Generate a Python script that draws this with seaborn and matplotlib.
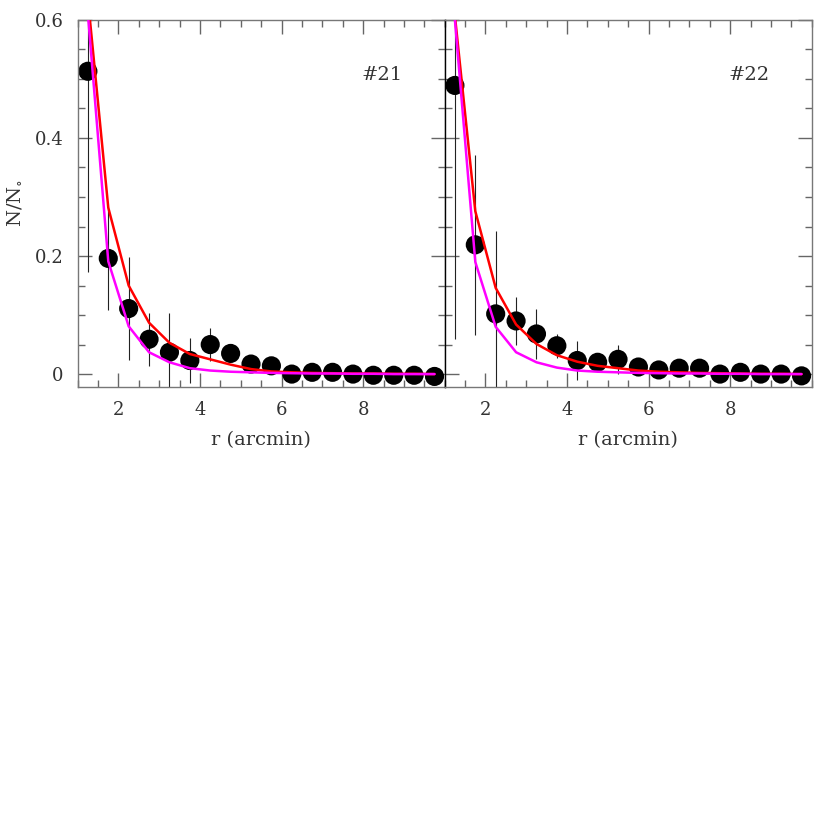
import numpy as np
import pandas as pd
import matplotlib
matplotlib.use("Agg")
import matplotlib.pyplot as plt
import seaborn as sns
from matplotlib.ticker import MultipleLocator

# radial bins (arcmin)
r = [1.25, 1.75, 2.25, 2.75, 3.25, 3.75, 4.25, 4.75, 5.25,
     5.75, 6.25, 6.75, 7.25, 7.75, 8.25, 8.75, 9.25, 9.75]

# cluster #21
n21 = [0.513, 0.196, 0.111, 0.059, 0.037, 0.023, 0.050, 0.035, 0.017,
       0.014, 0.000, 0.003, 0.003, 0.000, -0.002, -0.002, -0.002, -0.004]
e21 = [0.34, 0.087, 0.087, 0.045, 0.067, 0.038, 0.028, 0.010, 0.008,
       0.006, 0.004, 0.004, 0.004, 0.004, 0.004, 0.004, 0.004, 0.004]
red21 = [0.636, 0.282, 0.150, 0.087, 0.053, 0.034, 0.025, 0.016, 0.0085,
         0.0045, 0.003, 0.002, 0.0015, 0.001, 0.001, 0.0005, 0.0005, 0.0]
mag21 = [0.61, 0.191, 0.081, 0.037, 0.020, 0.010, 0.006, 0.004, 0.003,
         0.002, 0.0015, 0.001, 0.001, 0.0005, 0.0005, 0.0, 0.0, 0.0]

# cluster #22
n22 = [0.489, 0.219, 0.102, 0.090, 0.068, 0.048, 0.023, 0.020, 0.025,
       0.012, 0.007, 0.010, 0.010, 0.000, 0.003, 0.000, 0.000, -0.003]
e22 = [0.43, 0.153, 0.14, 0.04, 0.042, 0.02, 0.033, 0.008, 0.025,
       0.006, 0.004, 0.004, 0.004, 0.004, 0.004, 0.004, 0.004, 0.004]
red22 = [0.607, 0.276, 0.146, 0.084, 0.051, 0.032, 0.021, 0.014, 0.010,
         0.006, 0.004, 0.003, 0.002, 0.0015, 0.001, 0.0005, 0.0005, 0.0]
mag22 = [0.60, 0.190, 0.080, 0.037, 0.020, 0.011, 0.006, 0.004, 0.003,
         0.002, 0.0015, 0.001, 0.001, 0.0005, 0.0005, 0.0, 0.0, 0.0]

panels = [("#21", n21, e21, red21, mag21), ("#22", n22, e22, red22, mag22)]

sns.set_style("ticks")
plt.rcParams['font.family'] = ['DejaVu Serif']
plt.rcParams['mathtext.fontset'] = 'dejavuserif'

fig, axes = plt.subplots(1, 2, figsize=(8.3, 8.3), dpi=100, sharey=True)
fig.subplots_adjust(left=0.0936, right=0.978, top=0.976, bottom=0.534, wspace=0)

for ax, (label, n, e, red, mag) in zip(axes, panels):
    df = pd.DataFrame({'r': r, 'n': n, 'e': e, 'red': red, 'mag': mag})
    ax.errorbar(df['r'], df['n'], yerr=df['e'], fmt='none', ecolor='#222222',
                elinewidth=0.8, capsize=0, zorder=1)
    sns.scatterplot(data=df, x='r', y='n', color='black', s=190, ax=ax,
                    edgecolor='none', zorder=2, clip_on=False)
    sns.lineplot(data=df, x='r', y='red', color='#ff0000', lw=1.8, ax=ax,
                 zorder=5, sort=False)
    sns.lineplot(data=df, x='r', y='mag', color='#ff00ff', lw=1.8, ax=ax,
                 zorder=6, sort=False)

    ax.set_xlim(1, 10)
    ax.set_ylim(-0.0215, 0.6)
    ax.xaxis.set_major_locator(MultipleLocator(2))
    ax.xaxis.set_minor_locator(MultipleLocator(0.5))
    ax.yaxis.set_major_locator(MultipleLocator(0.2))
    ax.yaxis.set_minor_locator(MultipleLocator(0.05))
    ax.set_xticks([2, 4, 6, 8])
    ax.tick_params(which='both', direction='in', top=True, right=True,
                   color='#666666', width=1, labelsize=13, labelcolor='#333333')
    ax.tick_params(which='major', length=10, pad=10)
    ax.tick_params(which='minor', length=5)
    for sp in ax.spines.values():
        sp.set_visible(True)
        sp.set_color('#777777')
        sp.set_linewidth(1)
    ax.set_xlabel('r (arcmin)', fontsize=14, color='#333333', labelpad=9)
    ax.set_ylabel('')
    ax.text(0.885, 0.85, label, transform=ax.transAxes, ha='right', va='center',
            fontsize=14, color='#333333')

axes[0].set_ylabel(r'N/N$_{\circ}$', fontsize=14, color='#333333', labelpad=8)
axes[0].set_yticks([0, 0.2, 0.4, 0.6])
axes[0].set_yticklabels(['0', '0.2', '0.4', '0.6'])
axes[1].tick_params(labelleft=False)
axes[1].spines['left'].set_color('black')

fig.savefig('out.png', dpi=100)
